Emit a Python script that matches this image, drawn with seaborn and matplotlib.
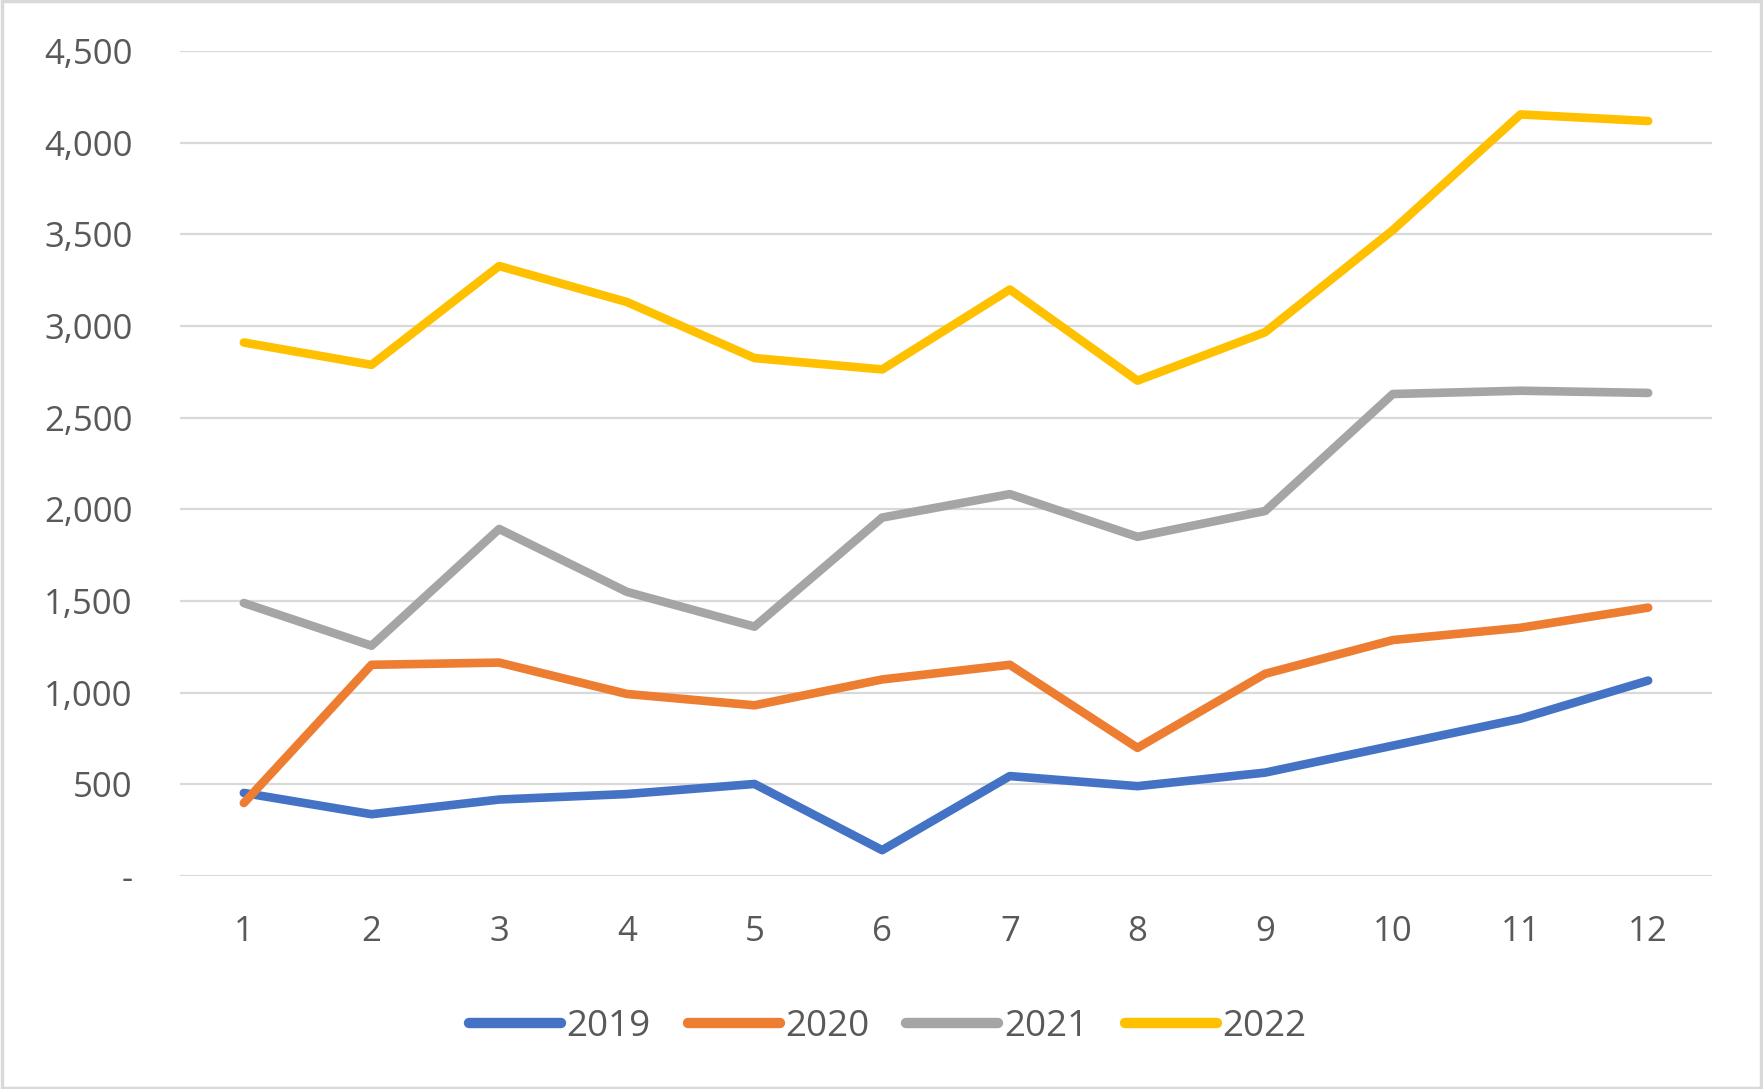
import pandas as pd
import matplotlib.pyplot as plt
import matplotlib.ticker as mticker
from matplotlib.patches import Rectangle
import seaborn as sns

months = list(range(1, 13))
years = ["2019", "2020", "2021", "2022"]
v2019 = [453, 337, 417, 447, 502, 141, 545, 490, 564, 711, 858, 1066]
v2020 = [398, 1152, 1164, 993, 931, 1072, 1152, 699, 1103, 1287, 1354, 1464]
v2021 = [1489, 1256, 1893, 1550, 1360, 1955, 2083, 1850, 1991, 2629, 2647, 2635]
v2022 = [2910, 2788, 3327, 3131, 2825, 2763, 3199, 2702, 2966, 3523, 4154, 4118]
colors = ["#4472C4", "#ED7D31", "#A5A5A5", "#FFC000"]

rows = []
for yr, vals in zip(years, [v2019, v2020, v2021, v2022]):
    for m, v in zip(months, vals):
        rows.append({"Month": m, "Value": v, "Year": yr})
df = pd.DataFrame(rows)

sns.set_theme(style="white")
plt.rcParams["font.family"] = ["Open Sans", "DejaVu Sans"]

fig = plt.figure(figsize=(17.63, 10.89), dpi=100)
ax = fig.add_axes([180 / 1763, 1 - 876 / 1089, (1712 - 180) / 1763, (876 - 51) / 1089])

sns.lineplot(data=df, x="Month", y="Value", hue="Year", palette=colors,
             linewidth=6.2, ax=ax, solid_capstyle="round", solid_joinstyle="round")

ax.set_xlim(0.5, 12.5)
ax.set_ylim(0, 4500)
ax.set_xticks(months)
ax.set_yticks(range(0, 4501, 500))
ax.yaxis.set_major_formatter(
    mticker.FuncFormatter(lambda v, p: "-" if v == 0 else f"{int(v):,}")
)
ax.grid(axis="y", color="#D9D9D9", linewidth=1.6)
ax.set_axisbelow(True)
for s in ax.spines.values():
    s.set_visible(False)
ax.tick_params(axis="both", length=0, labelsize=25, labelcolor="#595959")
ax.tick_params(axis="y", pad=34)
ax.tick_params(axis="x", pad=28)
ax.set_xlabel("")
ax.set_ylabel("")

leg = ax.legend(title=None, loc="center", bbox_to_anchor=(0.462, -0.183), ncol=4,
                frameon=False, fontsize=26.5, labelcolor="#595959", handlelength=2.5,
                handletextpad=0.15, columnspacing=1.0)
for ln in leg.get_lines():
    ln.set_linewidth(7.5)
    ln.set_solid_capstyle("round")

fig.patches.append(Rectangle((0.001, 0.001), 0.998, 0.998, transform=fig.transFigure,
                             fill=False, edgecolor="#D9D9D9", linewidth=2.5))

fig.savefig("out.png", dpi=100)
